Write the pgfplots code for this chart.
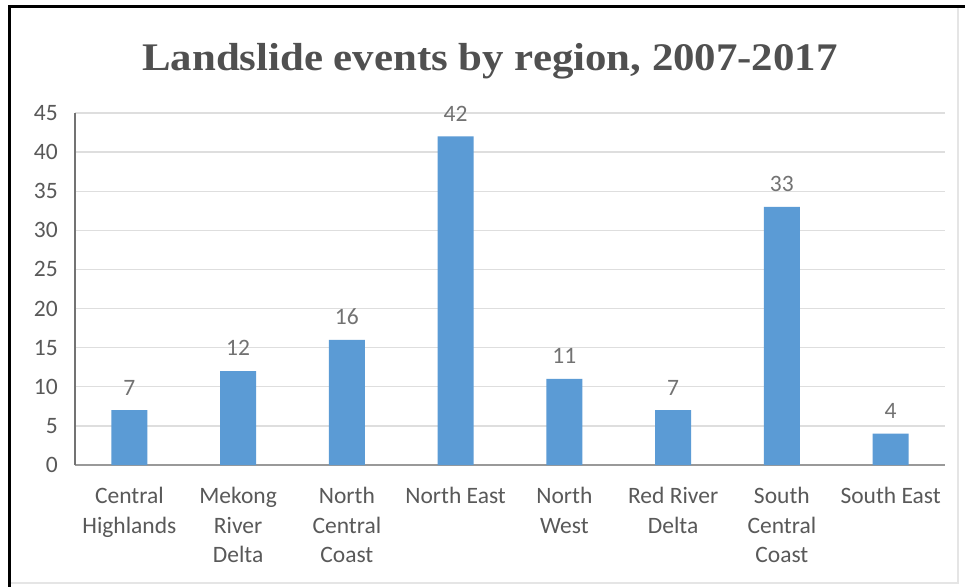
\documentclass[border=0pt]{standalone}
\usepackage{pgfplots}
\pgfplotsset{compat=1.18}
\usepackage{graphicx}
\usepackage{fontspec}
\setmainfont{Carlito}
\newfontfamily\titlefont{Liberation Serif}
\definecolor{txt}{HTML}{595959}
\definecolor{ttl}{HTML}{505050}
\definecolor{barc}{HTML}{5B9BD5}
\begin{document}
\begin{tikzpicture}
\useasboundingbox (-75bp,-122bp) rectangle (890bp,465bp);
\fill[white] (-75bp,-122bp) rectangle (890bp,465bp);
\draw[gray!20, line width=1.2bp] (-64bp,-118bp) -- (883bp,-118bp) -- (883bp,457bp);
\draw[black, line width=3.2bp] (-65.5bp,-122bp) -- (-65.5bp,458.5bp) -- (890bp,458.5bp);
\begin{axis}[
  scale only axis, width=870bp, height=352bp,
  ymin=0, ymax=45, ytick={0,5,...,45},
  xmin=-0.5, xmax=7.5, xtick={0,...,7},
  xticklabels={{Central\\Highlands},{Mekong\\River\\Delta},{North\\Central\\Coast},{North East},{North\\West},{Red River\\Delta},{South\\Central\\Coast},{South East}},
  ybar, bar width=36bp,
  axis x line*=bottom, axis y line*=left,
  x axis line style={-, draw=black!40, line width=1.3bp},
  y axis line style={-, draw=black!55, line width=1.1bp},
  major tick length=0pt,
  ymajorgrids, grid style={draw=black!13, line width=1.4bp},
  tick label style={font=\fontsize{23.5bp}{29.5bp}\selectfont, text=txt},
  yticklabel style={inner sep=0pt, xshift=-17bp},
  xticklabel style={align=center, inner sep=0pt, yshift=-22bp},
  /pgf/number format/assume math mode=true,
  nodes near coords,
  every node near coord/.append style={font=\fontsize{23.5bp}{28bp}\selectfont, text=txt!85, inner sep=0pt, yshift=15bp},
]
\addplot[fill=barc, draw=none] coordinates {(0,7) (1,12) (2,16) (3,42) (4,11) (5,7) (6,33) (7,4)};
\end{axis}
\node[text=ttl] at (415bp,404bp) {\scalebox{1.26}[1.15]{\titlefont\bfseries\fontsize{34bp}{40bp}\selectfont Landslide events by region, 2007-2017}};
\end{tikzpicture}
\end{document}
